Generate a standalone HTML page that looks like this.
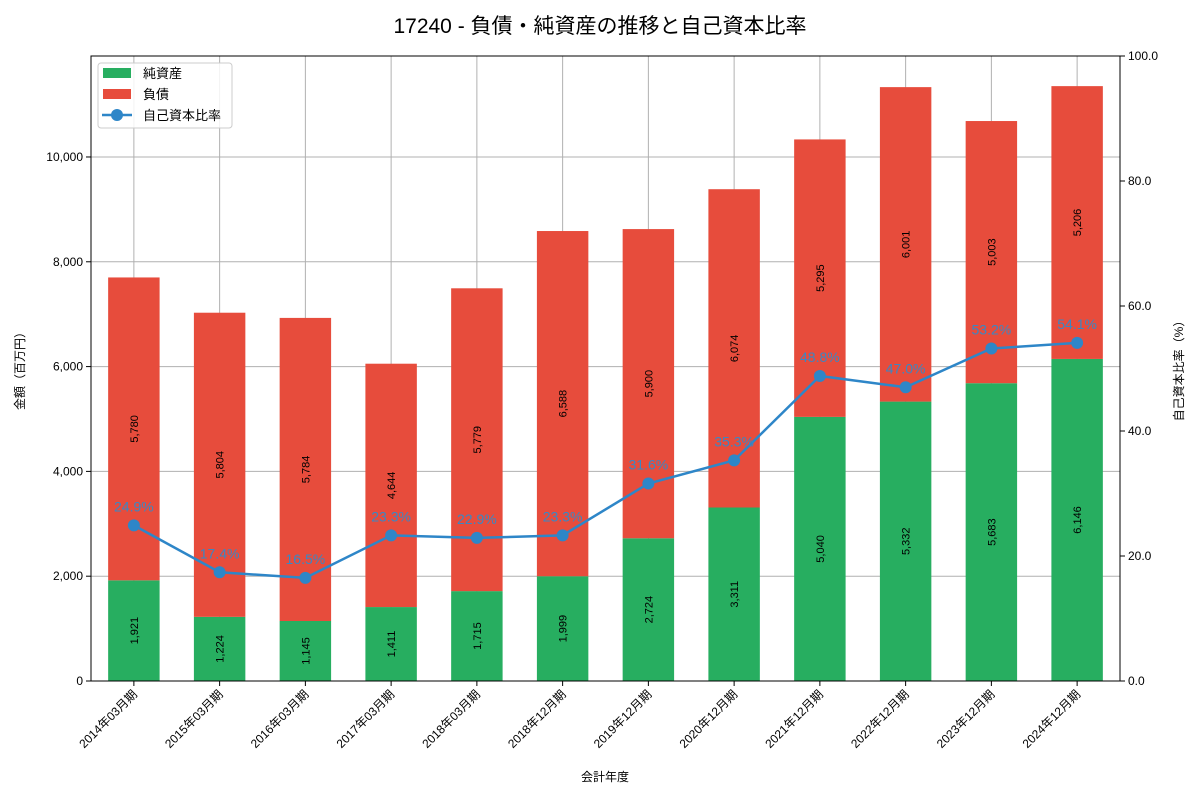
<!DOCTYPE html>
<html><head><meta charset="utf-8"><style>
body{margin:0;background:#fff;font-family:"Liberation Sans","Noto Sans CJK JP",sans-serif;}
svg text{font-family:"Liberation Sans","Noto Sans CJK JP",sans-serif;}
</style></head><body>
<svg id="c" width="1200" height="800" xmlns="http://www.w3.org/2000/svg"></svg>
<script>
const categories=["2014年03月期","2015年03月期","2016年03月期","2017年03月期","2018年03月期","2018年12月期","2019年12月期","2020年12月期","2021年12月期","2022年12月期","2023年12月期","2024年12月期"];
const netAssets=[1921,1224,1145,1411,1715,1999,2724,3311,5040,5332,5683,6146];
const liabilities=[5780,5804,5784,4644,5779,6588,5900,6074,5295,6001,5003,5206];
const equityRatio=[24.9,17.4,16.5,23.3,22.9,23.3,31.6,35.3,48.8,47.0,53.2,54.1];
const leftTicks=[0,2000,4000,6000,8000,10000];
const rightTicks=[0,20,40,60,80,100];

const NS="http://www.w3.org/2000/svg";
const svg=document.getElementById('c');
const L=91,R=1120,T=56,B=681;
const yMax=11927;
const y=v=>B-(v/yMax)*(B-T);
const y2=v=>B-(v/100)*(B-T);
const step=(R-L)/categories.length;
const x=i=>L+step*(i+0.5);
const bw=step*0.6;
function el(tag,attrs,parent){const e=document.createElementNS(NS,tag);for(const k in attrs)e.setAttribute(k,attrs[k]);(parent||svg).appendChild(e);return e;}
function txt(s,attrs,parent){const e=el('text',attrs,parent);e.textContent=s;return e;}
const fmt=v=>v.toLocaleString('en-US');

const title=txt("17240 - 負債・純資産の推移と自己資本比率",{x:600,y:33,'text-anchor':'middle','font-size':21,fill:'#000'});



// grid
categories.forEach((c,i)=>{const g=el('line',{x1:x(i),x2:x(i),y1:T,y2:B,stroke:'#b0b0b0','stroke-width':1});

});
leftTicks.forEach(t=>{const g=el('line',{x1:L,x2:R,y1:y(t),y2:y(t),stroke:'#b0b0b0','stroke-width':1});

});

// bars
categories.forEach((c,i)=>{
 const b1=el('rect',{x:x(i)-bw/2,y:y(netAssets[i]),width:bw,height:B-y(netAssets[i]),fill:'#27ae60'});
 
 
 const top=netAssets[i]+liabilities[i];
 const b2=el('rect',{x:x(i)-bw/2,y:y(top),width:bw,height:y(netAssets[i])-y(top),fill:'#e74c3c'});
 
 
 const cy1=(y(netAssets[i])+B)/2, cy2=(y(top)+y(netAssets[i]))/2;
 const t1=txt(fmt(netAssets[i]),{x:x(i)+4,y:cy1,'text-anchor':'middle','font-size':11,fill:'#000',transform:`rotate(-90 ${x(i)+4} ${cy1})`});
 
 
 const t2=txt(fmt(liabilities[i]),{x:x(i)+4,y:cy2,'text-anchor':'middle','font-size':11,fill:'#000',transform:`rotate(-90 ${x(i)+4} ${cy2})`});
 
 
});

// line
const pts=equityRatio.map((v,i)=>x(i)+','+y2(v)).join(' ');
const pl=el('polyline',{points:pts,fill:'none',stroke:'#2e86c8','stroke-width':2.5});


equityRatio.forEach((v,i)=>{
 const c=el('circle',{cx:x(i),cy:y2(v),r:6,fill:'#2e86c8'});
 
 
 const t=txt(v.toFixed(1)+'%',{x:x(i),y:y2(v)-14,'text-anchor':'middle','font-size':14,fill:'#3a87c4'});
 
 
});

// frame
const fr=el('rect',{x:L,y:T,width:R-L,height:B-T,fill:'none',stroke:'#000','stroke-width':1});



// left ticks
leftTicks.forEach(t=>{
 el('line',{x1:L-5,x2:L,y1:y(t),y2:y(t),stroke:'#000'});
 const l=txt(fmt(t),{x:L-8,y:y(t)+4,'text-anchor':'end','font-size':12,fill:'#000'});
 
 
});
rightTicks.forEach(t=>{
 el('line',{x1:R,x2:R+5,y1:y2(t),y2:y2(t),stroke:'#000'});
 const l=txt(t.toFixed(1),{x:R+8,y:y2(t)+4,'text-anchor':'start','font-size':12,fill:'#000'});
 
 
});
categories.forEach((c,i)=>{
 el('line',{x1:x(i),x2:x(i),y1:B,y2:B+5,stroke:'#000'});
 const l=txt(c,{x:x(i)+4,y:B+14,'text-anchor':'end','font-size':12,fill:'#000',transform:`rotate(-45 ${x(i)+4} ${B+14})`});
 
 
});
const yt=txt("金額（百万円）",{x:24,y:368,'text-anchor':'middle','font-size':12,fill:'#000',transform:'rotate(-90 24 368)'});


const yt2=txt("自己資本比率（%）",{x:1183,y:368,'text-anchor':'middle','font-size':12,fill:'#000',transform:'rotate(-90 1183 368)'});


const xt=txt("会計年度",{x:605,y:781,'text-anchor':'middle','font-size':12,fill:'#000'});



// legend
const lg=el('g',{});


el('rect',{x:98,y:63,width:134,height:65,rx:3,fill:'#fff','fill-opacity':0.85,stroke:'#ccc'},lg);
const e1=el('rect',{x:103,y:68,width:28,height:10,fill:'#27ae60'},lg);


txt("純資産",{x:143,y:78,'font-size':13,fill:'#000'},lg);
const e2=el('rect',{x:103,y:89,width:28,height:10,fill:'#e74c3c'},lg);


txt("負債",{x:143,y:99,'font-size':13,fill:'#000'},lg);
el('line',{x1:102,x2:132,y1:115,y2:115,stroke:'#2e86c8','stroke-width':2.5},lg);
el('circle',{cx:117,cy:115,r:6,fill:'#2e86c8'},lg);
txt("自己資本比率",{x:143,y:120,'font-size':13,fill:'#000'},lg);
</script>
</body></html>
